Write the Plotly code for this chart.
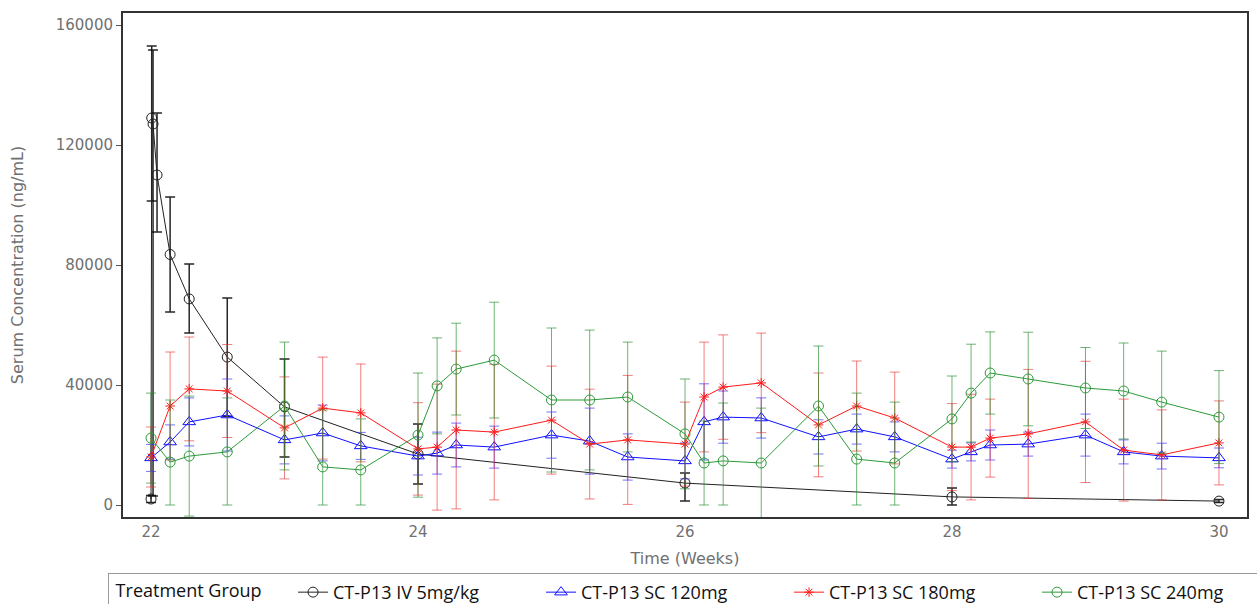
import plotly.graph_objects as go

# Nominal sampling times (weeks)
t_iv = [22, 22.005, 22.015, 22.045, 22.143, 22.286, 22.571, 23, 24, 26, 28, 30]
t_sc = [22, 22.143, 22.286, 22.571, 23, 23.286, 23.571,
        24, 24.143, 24.286, 24.571, 25, 25.286, 25.571,
        26, 26.143, 26.286, 26.571, 27, 27.286, 27.571,
        28, 28.143, 28.286, 28.571, 29, 29.286, 29.571, 30]

# CT-P13 IV 5mg/kg: mean and error (ng/mL)
iv_mean = [2000, 129000, 127000, 110000, 83500, 68700, 49300, 32700, 17000, 7300, 2700, 1300]
iv_plus = [1200, 24000, 24700, 20700, 19200, 11600, 19700, 16000, 10000, 3400, 3000, 500]
iv_minus = [1200, 27700, 124000, 19000, 19200, 11400, 19700, 16700, 10000, 6000, 2700, 500]

# CT-P13 SC 120mg
sc120_mean = [15700, 21000, 27700, 30000, 21700, 24000, 19700,
              16300, 17300, 20000, 19300, 23300, 21300, 16000,
              14700, 27700, 29300, 29000, 22700, 25300, 22700,
              15300, 17700, 20000, 20300, 23300, 17700, 16300, 15700]
sc120_sd = [4500, 5700, 8000, 12000, 8000, 9300, 4500,
            6300, 7000, 7300, 7000, 7700, 11000, 7700,
            6000, 12700, 8700, 6700, 5700, 5000, 5000,
            3000, 3000, 5000, 4000, 7000, 4000, 4300, 3300]

# CT-P13 SC 180mg
sc180_mean = [16000, 33000, 38700, 38000, 25700, 32300, 30700,
              18700, 19300, 25000, 24300, 28300, 20300, 21700,
              20300, 36000, 39300, 40700, 26700, 33000, 29000,
              19300, 19300, 22300, 23700, 27700, 18300, 16700, 20700]
sc180_sd = [10000, 18000, 17300, 15500, 17000, 17000, 16300,
            15400, 21000, 26300, 22600, 18000, 18300, 21500,
            14000, 18300, 17400, 16600, 17300, 15000, 15300,
            14500, 17600, 13000, 21500, 20200, 17000, 15000, 14000]

# CT-P13 SC 240mg
sc240_mean = [22300, 14300, 16300, 17700, 33000, 12700, 11700,
              23300, 39700, 45300, 48300, 35000, 35000, 36000,
              23700, 14000, 14700, 14000, 33000, 15300, 14000,
              28700, 37300, 44000, 42000, 39000, 38000, 34300, 29300]
sc240_plus = [15000, 20700, 20000, 18000, 21300, 19000, 17000,
              20700, 16000, 15300, 19300, 24000, 23300, 18300,
              18300, 14000, 19300, 18300, 20000, 22000, 20300,
              14300, 16300, 13700, 15600, 13500, 16000, 17000, 15500]
sc240_minus = [15000, 14300, 20000, 17700, 21300, 12700, 11700,
               20700, 16000, 15300, 19300, 24000, 23300, 18300,
               18300, 14000, 14700, 18300, 20000, 15300, 14000,
               14300, 16300, 13700, 15600, 13500, 16000, 17000, 15500]

group_names = ["CT-P13 IV 5mg/kg", "CT-P13 SC 120mg", "CT-P13 SC 180mg", "CT-P13 SC 240mg"]

fig = go.Figure()


def add_group(name, t, mean, plus, minus, color, bar_color, symbol, msize, bar_w):
    fig.add_trace(go.Scatter(
        x=t, y=mean, name=name, mode="lines+markers",
        line=dict(color=color, width=1),
        marker=dict(symbol=symbol, size=msize, color=color,
                    line=dict(color=color, width=1)),
        error_y=dict(type="data", symmetric=False, array=plus, arrayminus=minus,
                     color=bar_color, thickness=bar_w, width=5),
    ))


add_group(group_names[0], t_iv, iv_mean, iv_plus, iv_minus,
          "#222222", "rgba(0,0,0,0.85)", "circle-open", 10, 1.5)
add_group(group_names[1], t_sc, sc120_mean, sc120_sd, sc120_sd,
          "#1010ff", "rgba(40,40,255,0.65)", "triangle-up-open", 11, 1)
add_group(group_names[2], t_sc, sc180_mean, sc180_sd, sc180_sd,
          "#ff1a1a", "rgba(235,40,40,0.6)", "asterisk-open", 8, 1)
add_group(group_names[3], t_sc, sc240_mean, sc240_plus, sc240_minus,
          "#2e9a3a", "rgba(30,140,40,0.65)", "circle-open", 10, 1)

tick_font = dict(family="DejaVu Sans", size=15, color="#707070")
title_font = dict(family="DejaVu Sans", size=16, color="#707070")
legend_font = dict(family="Open Sans", size=18, color="#111111")

fig.update_layout(
    width=1257, height=604,
    margin=dict(l=123, r=10, t=13, b=87, autoexpand=False),
    paper_bgcolor="white", plot_bgcolor="white",
    showlegend=True,
    legend=dict(
        orientation="h", x=-0.0134, y=-0.111, xanchor="left", yanchor="top",
        title=dict(text="\u00a0Treatment Group" + "\u00a0" * 5, side="left",
                   font=legend_font),
        font=legend_font,
        bordercolor="#9a9a9a", borderwidth=1, bgcolor="white",
        entrywidth=203, entrywidthmode="pixels",
        itemwidth=30,
    ),
    xaxis=dict(
        range=[21.79, 30.21], tickvals=[22, 24, 26, 28, 30],
        ticktext=["22", "24", "26", "28", "30"],
        showgrid=False, zeroline=False,
        showline=True, linecolor="#333333", linewidth=2, mirror=True,
        ticks="", tickfont=tick_font,
        title=dict(text="Time (Weeks)", font=title_font, standoff=13),
    ),
    yaxis=dict(
        range=[-4000, 164000], tickvals=[0, 40000, 80000, 120000, 160000],
        ticktext=["0", "40000", "80000", "120000", "160000"],
        showgrid=False, zeroline=False,
        showline=True, linecolor="#333333", linewidth=2, mirror=True,
        ticks="outside", ticklen=5, tickcolor="#555555", tickfont=tick_font,
        title=dict(text="Serum Concentration (ng/mL)", font=title_font, standoff=28),
    ),
)

fig.write_html("out.html")
